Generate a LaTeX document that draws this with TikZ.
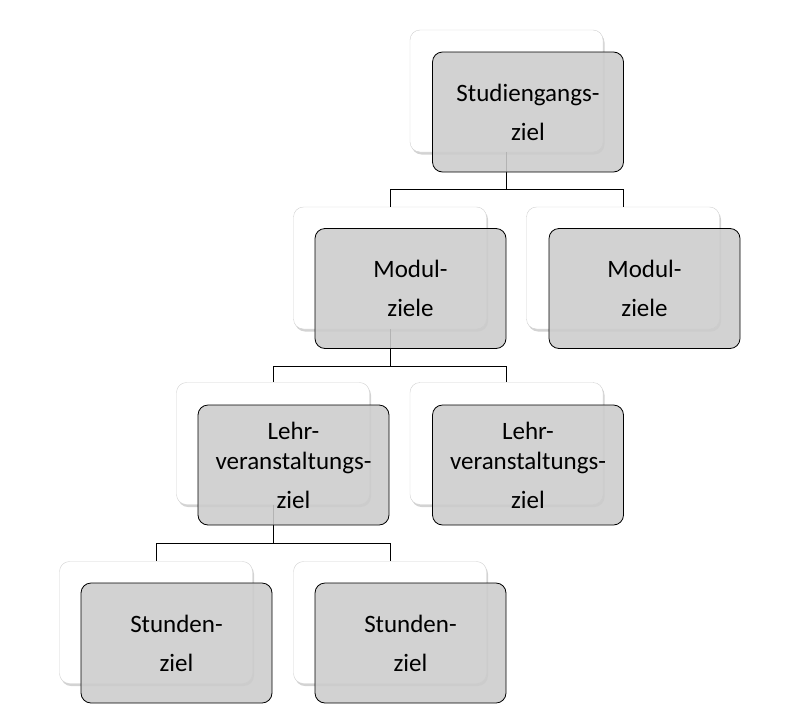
\documentclass[tikz,border=0pt]{standalone}
\usepackage{fontspec}
\setmainfont{Carlito}
\usetikzlibrary{shadows}
\begin{document}
\begin{tikzpicture}[x=1pt,y=-1pt,
card/.style={rectangle,rounded corners=10pt,minimum width=193pt,minimum height=122pt,fill=white,draw=black!18,drop shadow={opacity=0.35,shadow xshift=1.5pt,shadow yshift=-2.5pt}},
front/.style={rectangle,rounded corners=10pt,minimum width=191pt,minimum height=120pt,fill=black!20,fill opacity=0.88,text opacity=1,draw=black,line width=0.8pt,align=center,font=\fontsize{25}{30}\selectfont},
link/.style={draw=black,line width=0.8pt}]
\useasboundingbox (0,0) rectangle (805,720);
\node[card] (0) at (506.5,91) {};
\node[card] (1) at (390,268) {};
\node[card] (2) at (623,268) {};
\node[card] (3) at (273,443.5) {};
\node[card] (4) at (506.5,443.5) {};
\node[card] (5) at (156,622.5) {};
\node[card] (6) at (390,622.5) {};
\draw [link](0.south)--++(0,37) coordinate (0j);
\draw [link](0j)-|(1.north);
\draw [link](0j)-|(2.north);
\draw [link](1.south)--++(0,37) coordinate (1j);
\draw [link](1j)-|(3.north);
\draw [link](1j)-|(4.north);
\draw [link](3.south)--++(0,39) coordinate (3j);
\draw [link](3j)-|(5.north);
\draw [link](3j)-|(6.north);
\node[front] (0f) at (528,112) {Studiengangs-\\[9pt]ziel};
\node[front] (1f) at (410.5,288.5) {Modul-\\[9pt]ziele};
\node[front] (2f) at (644.5,288.5) {Modul-\\[9pt]ziele};
\node[front] (3f) at (293.5,465) {Lehr-\\veranstaltungs-\\[9pt]ziel};
\node[front] (4f) at (528,465) {Lehr-\\veranstaltungs-\\[9pt]ziel};
\node[front] (5f) at (176.5,643) {Stunden-\\[9pt]ziel};
\node[front] (6f) at (410.5,643) {Stunden-\\[9pt]ziel};
\end{tikzpicture}
\end{document}
